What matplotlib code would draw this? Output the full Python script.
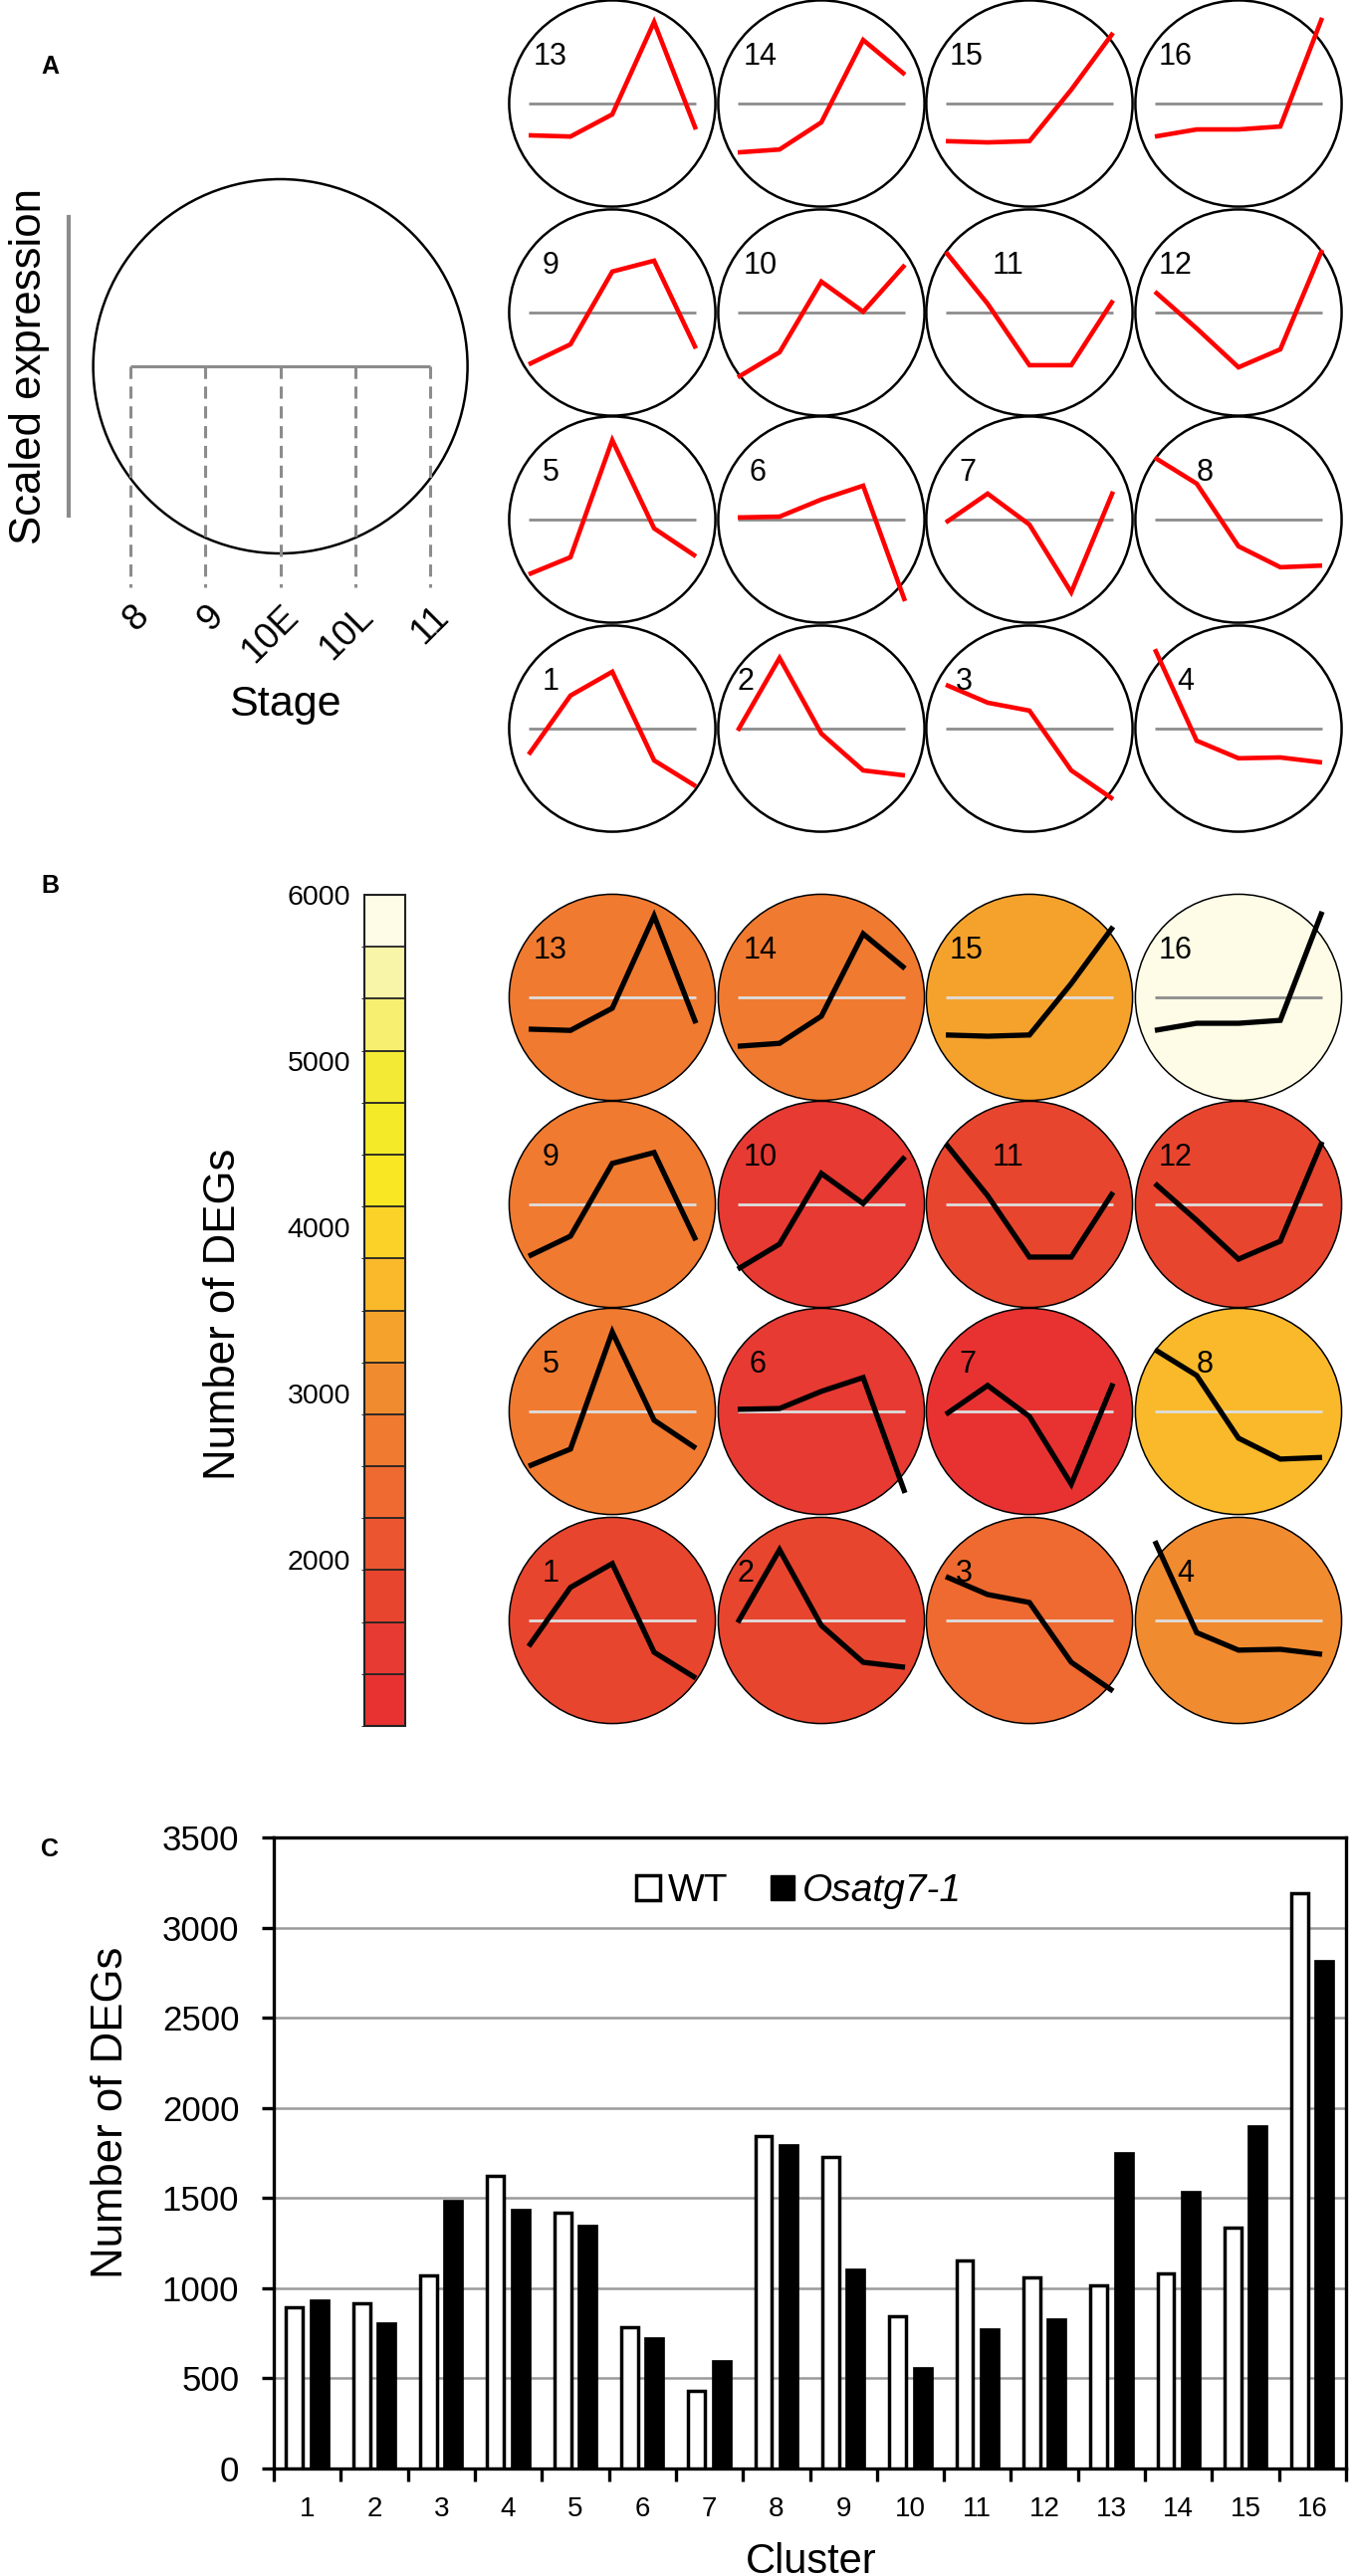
import numpy as np
import matplotlib
matplotlib.use('Agg')
import matplotlib as mpl
import matplotlib.pyplot as plt
from matplotlib.patches import Circle, Patch
from matplotlib.colors import ListedColormap, BoundaryNorm
from matplotlib.lines import Line2D

plt.rcParams['font.family'] = ['Liberation Sans', 'DejaVu Sans']

# ---------------- data ----------------
stages = ['8', '9', '10E', '10L', '11']
clusters = list(range(1, 17))
wt_degs = [892, 914, 1070, 1625, 1418, 783, 429, 1843, 1729, 846, 1155, 1060, 1018, 1081, 1334, 3190]
mut_degs = [938, 812, 1490, 1440, 1351, 727, 601, 1802, 1110, 565, 780, 834, 1758, 1540, 1903, 2820]
series_names = ['WT', 'Osatg7-1']

# scaled expression profile of each cluster over the five stages
profiles = {
    1: [-0.62, 0.79, 1.36, -0.76, -1.38],
    2: [-0.05, 1.69, -0.12, -1.00, -1.12],
    3: [1.05, 0.62, 0.43, -1.00, -1.69],
    4: [1.90, -0.29, -0.71, -0.69, -0.81],
    5: [-1.31, -0.90, 1.90, -0.21, -0.88],
    6: [0.05, 0.07, 0.48, 0.81, -1.95],
    7: [-0.07, 0.62, -0.12, -1.74, 0.67],
    8: [1.48, 0.86, -0.64, -1.14, -1.10],
    9: [-1.24, -0.76, 0.98, 1.24, -0.86],
    10: [-1.55, -0.95, 0.74, 0.02, 1.14],
    11: [1.45, 0.21, -1.26, -1.26, 0.29],
    12: [0.50, -0.38, -1.31, -0.88, 1.50],
    13: [-0.76, -0.79, -0.26, 1.95, -0.62],
    14: [-1.17, -1.10, -0.45, 1.52, 0.69],
    15: [-0.90, -0.93, -0.90, 0.33, 1.69],
    16: [-0.79, -0.62, -0.62, -0.55, 2.05],
}
grid_order = [[13, 14, 15, 16], [9, 10, 11, 12], [5, 6, 7, 8], [1, 2, 3, 4]]

cbar_colors = ['#e83232', '#e63a33', '#e8452f', '#eb5630', '#ee6a30', '#f07a30',
               '#f18b30', '#f5a22d', '#f9b92a', '#fbd328', '#fae724', '#f4ea28',
               '#f3ea35', '#f6ef70', '#f9f5a8', '#fefce6']
cbar_bounds = np.linspace(1000, 6000, 17)
cbar_ticks = [2000, 3000, 4000, 5000, 6000]

# ---------------- layout helpers ----------------
W, H, DPI = 1358, 2588, 100
fig = plt.figure(figsize=(W / DPI, H / DPI), dpi=DPI)


def ax_px(x0, y0, x1, y1):
    return fig.add_axes([x0 / W, 1 - y1 / H, (x1 - x0) / W, (y1 - y0) / H])


def ftext(x, y, s, **kw):
    return fig.text(x / W, 1 - y / H, s, **kw)


# ---------------- panel A : schematic ----------------
ftext(50, 67, 'A', fontsize=18, fontweight='bold', ha='center', va='center')

U0 = 75.3          # px per stage step
X0, Y0 = 131, 368  # px of first stage on the zero line
bx0, by0, bx1, by1 = 70, 150, 500, 700
axs = ax_px(bx0, by0, bx1, by1)
axs.set_xlim((bx0 - X0) / U0, (bx1 - X0) / U0)
axs.set_ylim(-(by1 - Y0) / U0, (Y0 - by0) / U0)
axs.axis('off')
sx = np.arange(len(stages))
axs.add_patch(Circle((sx.mean(), 0), 188 / U0, facecolor='none', edgecolor='black', lw=1.8))
axs.plot([sx[0], sx[-1]], [0, 0], color='#8c8c8c', lw=2.2, solid_capstyle='butt')
for xi, lab in zip(sx, stages):
    axs.plot([xi, xi], [0, -(590 - Y0) / U0], color='#8c8c8c', lw=2.2,
             linestyle=(0, (4, 2.5)))
    axs.text(xi + 13 / U0, -(614 - Y0) / U0, lab, rotation=45, rotation_mode='anchor',
             ha='right', va='center', fontsize=26.5)
ftext(286, 708, 'Stage', fontsize=31, ha='center', va='center')
ftext(30, 368, 'Scaled expression', fontsize=31.5, rotation=90, ha='center', va='center')
fig.add_artist(Line2D([69 / W, 69 / W], [1 - 218 / H, 1 - 518 / H], color='#8c8c8c', lw=3.0))

# ---------------- cluster circles ----------------
R, U = 104, 42
colx = [615, 825, 1034, 1244]
rowsA = [104, 314, 522, 732]
rowsB = [1002, 1210, 1418, 1628]
label_dx = {1: -70, 2: -84, 3: -74, 4: -62, 5: -70, 6: -73, 7: -71, 8: -42,
            9: -70, 10: -78, 11: -37, 12: -80, 13: -79, 14: -78, 15: -80, 16: -80}

cmap = ListedColormap(cbar_colors)
cmap.set_over(cbar_colors[-1])
cmap.set_under(cbar_colors[0])
norm = BoundaryNorm(cbar_bounds, cmap.N)
totals = {c: w + m for c, w, m in zip(clusters, wt_degs, mut_degs)}


def draw_cluster(cx, cy, c, face, edge_lw, mid_color, line_color, line_lw):
    ax = ax_px(cx - R, cy - R, cx + R, cy + R)
    lim = R / U
    ax.set_xlim(-lim, lim)
    ax.set_ylim(-lim, lim)
    ax.axis('off')
    ax.add_patch(Circle((0, 0), lim - 0.01, facecolor=face, edgecolor='black',
                        lw=edge_lw, clip_on=False))
    xs = np.arange(5) - 2
    ax.plot([xs[0], xs[-1]], [0, 0], color=mid_color, lw=2.0, solid_capstyle='butt')
    ax.plot(xs, profiles[c], color=line_color, lw=line_lw, clip_on=False,
            solid_capstyle='butt', solid_joinstyle='miter')
    ax.text(label_dx[c] / U, 39 / U, str(c), fontsize=22, ha='left', va='baseline')


for r, row in enumerate(grid_order):
    for k, c in enumerate(row):
        draw_cluster(colx[k], rowsA[r], c, 'white', 1.8, '#8c8c8c', '#ff0000', 3.3)

for r, row in enumerate(grid_order):
    for k, c in enumerate(row):
        face = cmap(norm(totals[c]))
        lum = 0.299 * face[0] + 0.587 * face[1] + 0.114 * face[2]
        mid = '#8c8c8c' if lum > 0.9 else '#dedede'
        draw_cluster(colx[k], rowsB[r], c, face, 1.1, mid, 'black', 3.8)

# ---------------- panel B : colour scale ----------------
ftext(50, 890, 'B', fontsize=18, fontweight='bold', ha='center', va='center')
cax = ax_px(366, 899, 407, 1734)
cb = mpl.colorbar.ColorbarBase(cax, cmap=cmap, norm=norm, ticks=cbar_ticks,
                               drawedges=True, orientation='vertical')
cb.outline.set_linewidth(1.5)
cb.outline.set_edgecolor('#222222')
cb.dividers.set_color('#222222')
cb.dividers.set_linewidth(1.3)
cax.yaxis.set_ticks_position('left')
cax.tick_params(length=0, labelsize=20.5, pad=10)
ftext(224, 1320, 'Number of DEGs', fontsize=31.5, rotation=90, ha='center', va='center')

# ---------------- panel C : bar chart ----------------
ftext(50, 1858, 'C', fontsize=18, fontweight='bold', ha='center', va='center')
axc = ax_px(275, 1846, 1352, 2480)
xc = np.arange(1, len(clusters) + 1)
axc.bar(xc - 0.19, wt_degs, width=0.25, color='white', edgecolor='black', lw=2.5, zorder=3)
axc.bar(xc + 0.18, mut_degs, width=0.297, color='black', edgecolor='black', lw=0.5, zorder=3)
axc.set_xlim(0.5, len(clusters) + 0.5)
axc.set_ylim(0, 3500)
axc.set_yticks(np.arange(0, 3501, 500))
axc.yaxis.grid(True, color='#9a9a9a', lw=1.8)
axc.set_axisbelow(True)
axc.set_xticks(xc)
axc.set_xticklabels([str(c) for c in clusters])
axc.set_xticks(np.arange(0.5, len(clusters) + 1, 1), minor=True)
axc.tick_params(axis='x', which='major', length=0, labelsize=20, pad=20)
axc.tick_params(axis='x', which='minor', length=9, width=2.4, direction='out')
axc.tick_params(axis='y', length=9, width=2.4, labelsize=25, pad=16)
for s in axc.spines.values():
    s.set_linewidth(2.4)
leg = axc.legend(handles=[Patch(facecolor='white', edgecolor='black', lw=2.5),
                          Patch(facecolor='black', edgecolor='black')],
                 labels=series_names, loc='center', bbox_to_anchor=(0.49, 0.915),
                 ncol=2, frameon=False, fontsize=28, handlelength=0.62,
                 handleheight=0.62, handletextpad=0.2, columnspacing=1.1)
leg.get_texts()[1].set_style('italic')
ftext(112, 2122, 'Number of DEGs', fontsize=31.5, rotation=90, ha='center', va='center')
ftext(815, 2585, 'Cluster', fontsize=30, ha='center', va='baseline')

fig.savefig('out.png', dpi=DPI, facecolor='white')
